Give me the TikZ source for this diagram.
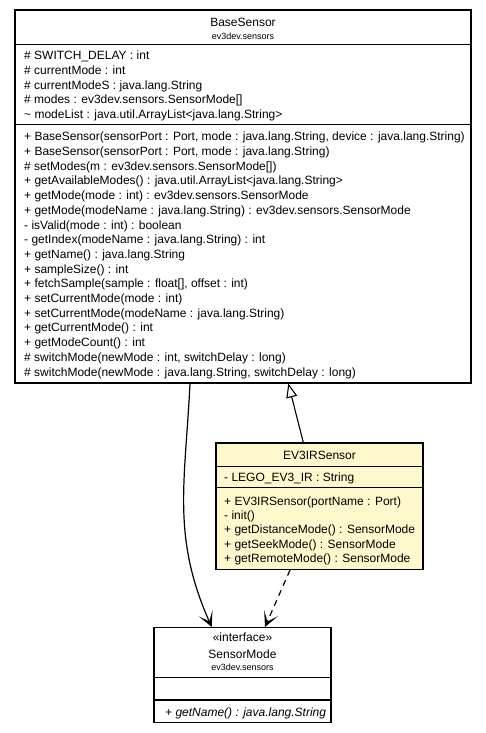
\documentclass[tikz,border=0pt]{standalone}
\usepackage{fontspec}
\setmainfont{Liberation Sans}
\usetikzlibrary{arrows.meta}

\definecolor{classyellow}{RGB}{255,248,204}

\begin{document}
\begin{tikzpicture}[
    x=1pt, y=-1pt,
    class box/.style={rectangle, draw=black, line width=1.1pt, fill=#1, inner sep=0pt},
    separator/.style={draw=black, line width=1.1pt},
    class name/.style={font=\fontsize{12}{14}\selectfont, inner sep=0pt, text height=8.6pt, text depth=0pt},
    package name/.style={font=\fontsize{9}{11}\selectfont, inner sep=0pt, text height=6.5pt, text depth=0pt},
    member/.style={class name, anchor=west},
    abstract member/.style={member, font=\fontsize{12}{14}\selectfont\itshape},
    extends/.style={-{Triangle[open, length=14pt, width=11pt, fill=white]}, line width=1.1pt},
    uses/.style={-{Stealth[length=15pt, width=15pt, inset=9pt]}, line width=1.2pt},
    depends/.style={uses, dash pattern=on 6pt off 5pt}
]

\useasboundingbox (0,0) rectangle (485,733);

% BaseSensor
\begin{scope}[shift={(15,10)}]
    \node[class box=white, minimum width=456pt, minimum height=373pt] (base) at (228,186.5) {};
    \node[class name] (baseN) at (228,12.5) {BaseSensor};
    \node[package name] (baseP) at (228,26) {ev3dev.sensors};
    \draw[separator] (base.west |- 0,34.5) -- (base.east |- 0,34.5);

    \node[member] (ba1) at (9,45.5) {\# SWITCH\_DELAY : int};
    \node[member] (ba2) at (9,60.2) {\# currentMode : int};
    \node[member] (ba3) at (9,74.9) {\# currentModeS : java.lang.String};
    \node[member] (ba4) at (9,89.6) {\# modes : ev3dev.sensors.SensorMode[]};
    \node[member] (ba5) at (9,104.3) {\textasciitilde{} modeList : java.util.ArrayList<java.lang.String>};
    \draw[separator] (base.west |- 0,114.8) -- (base.east |- 0,114.8);

    \node[member] (bm1) at (9,126.5) {+ BaseSensor(sensorPort : Port, mode : java.lang.String, device : java.lang.String)};
    \node[member] (bm2) at (9,141.2) {+ BaseSensor(sensorPort : Port, mode : java.lang.String)};
    \node[member] (bm3) at (9,155.9) {\# setModes(m : ev3dev.sensors.SensorMode[])};
    \node[member] (bm4) at (9,170.6) {+ getAvailableModes() : java.util.ArrayList<java.lang.String>};
    \node[member] (bm5) at (9,185.3) {+ getMode(mode : int) : ev3dev.sensors.SensorMode};
    \node[member] (bm6) at (9,200.0) {+ getMode(modeName : java.lang.String) : ev3dev.sensors.SensorMode};
    \node[member] (bm7) at (9,214.7) {- isValid(mode : int) : boolean};
    \node[member] (bm8) at (9,229.4) {- getIndex(modeName : java.lang.String) : int};
    \node[member] (bm9) at (9,244.1) {+ getName() : java.lang.String};
    \node[member] (bm10) at (9,258.8) {+ sampleSize() : int};
    \node[member] (bm11) at (9,273.5) {+ fetchSample(sample : float[], offset : int)};
    \node[member] (bm12) at (9,288.2) {+ setCurrentMode(mode : int)};
    \node[member] (bm13) at (9,302.9) {+ setCurrentMode(modeName : java.lang.String)};
    \node[member] (bm14) at (9,317.6) {+ getCurrentMode() : int};
    \node[member] (bm15) at (9,332.3) {+ getModeCount() : int};
    \node[member] (bm16) at (9,347.0) {\# switchMode(newMode : int, switchDelay : long)};
    \node[member] (bm17) at (9,361.7) {\# switchMode(newMode : java.lang.String, switchDelay : long)};
\end{scope}

% EV3IRSensor
\begin{scope}[shift={(216,443)}]
    \node[class box=classyellow, minimum width=207pt, minimum height=126.5pt] (ir) at (103.5,63.25) {};
    \node[class name] (irN) at (103.5,12) {EV3IRSensor};
    \draw[separator] (ir.west |- 0,23.5) -- (ir.east |- 0,23.5);

    \node[member] (ia1) at (8,34.5) {- LEGO\_EV3\_IR : String};
    \draw[separator] (ir.west |- 0,44.7) -- (ir.east |- 0,44.7);

    \node[member] (im1) at (8,58) {+ EV3IRSensor(portName : Port)};
    \node[member] (im2) at (8,72.3) {- init()};
    \node[member] (im3) at (8,86.6) {+ getDistanceMode() : SensorMode};
    \node[member] (im4) at (8,100.9) {+ getSeekMode() : SensorMode};
    \node[member] (im5) at (8,115.2) {+ getRemoteMode() : SensorMode};
\end{scope}

% SensorMode
\begin{scope}[shift={(154,627.5)}]
    \node[class box=white, minimum width=177pt, minimum height=95pt] (mode) at (88.5,47.5) {};
    \node[class name] (modeS) at (88.5,9.2) {«interface»};
    \node[class name] (modeN) at (88.5,26.8) {SensorMode};
    \node[package name] (modeP) at (88.5,40.2) {ev3dev.sensors};
    \draw[separator] (mode.west |- 0,49.8) -- (mode.east |- 0,49.8);
    \draw[separator] (mode.west |- 0,72.5) -- (mode.east |- 0,72.5);

    \node[abstract member] (mm1) at (11,84.2) {+ getName() : java.lang.String};
\end{scope}

% Connectors
\draw[extends] ([xshift=-16.2pt]ir.north) -- ([xshift=45.3pt]base.south);
\draw[uses] ([xshift=-53pt]base.south) .. controls +(-5,100) and +(-40,-90) .. ([xshift=-30.8pt]mode.north);
\draw[depends] ([xshift=-29.5pt]ir.south) -- ([xshift=22.5pt]mode.north);

\end{tikzpicture}
\end{document}
